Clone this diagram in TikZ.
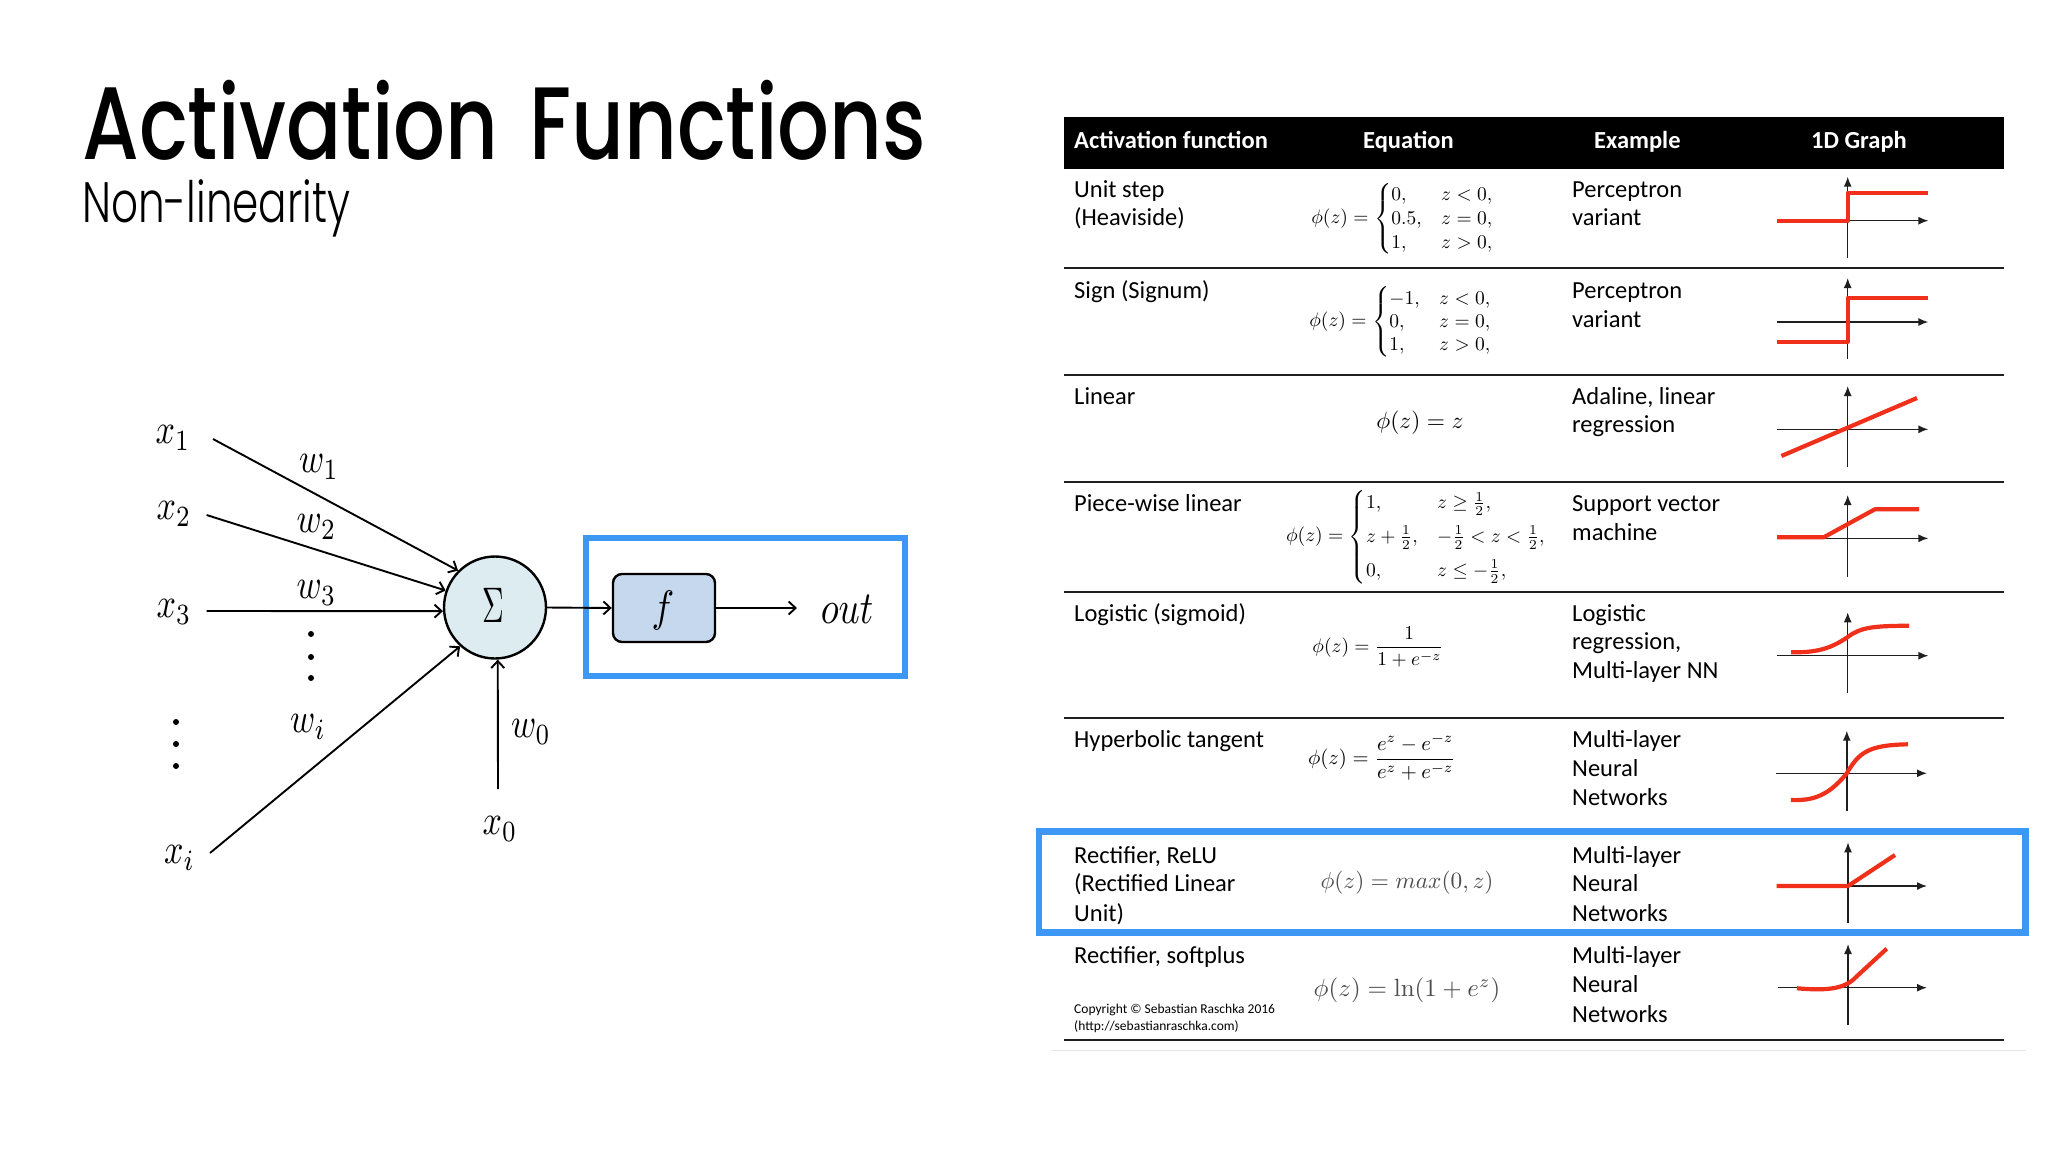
\documentclass[tikz,border=0pt]{standalone}
\usepackage{amsmath}
\usepackage[no-math]{fontspec}
\setmainfont{Carlito}
\newfontfamily\titlefont{Poppins Medium}
\newfontfamily\subfont{Poppins Light}
\usetikzlibrary{arrows.meta}
\definecolor{hlblue}{HTML}{3D97F5}
\definecolor{redcurve}{HTML}{F0301A}
\definecolor{sumfill}{HTML}{DCECF0}
\definecolor{ffill}{HTML}{C5D8EE}
\tikzset{
  mlab/.style={xscale=3.4,yscale=4.2,inner sep=0pt},
  wire/.style={line width=1.9pt,-{Straight Barb[length=7pt,width=13pt,line width=1.9pt]}},
  hlbox/.style={draw=hlblue,line width=6.6pt},
  cell/.style={anchor=base west,inner sep=0pt,font=\fontsize{24.5}{28}\selectfont},
  head/.style={anchor=base west,inner sep=0pt,text=white,font=\fontsize{24.5}{28}\selectfont\bfseries},
  eqn/.style={inner sep=0pt,scale=1.95},
  rulel/.style={line width=1.7pt,color=black!88},
  axis/.style={xshift=-1pt,line width=1.5pt,color=black!88,-{Latex[length=10pt,width=8pt]}},
  curve/.style={xshift=-1pt,line width=4.2pt,color=redcurve,line join=round},
  vdot/.style={fill=black},
}
\begin{document}
\begin{tikzpicture}[x=1pt,y=-1pt]
\useasboundingbox (0,0) rectangle (2048,1152);
\fill[white] (0,0) rectangle (2048,1152);

% title
\node[anchor=base west,inner sep=0pt] (title) at (82,159) {\resizebox{844pt}{\height}{\fontsize{103}{110}\titlefont Activation\hskip 12pt\ Functions}};
\node[anchor=base west,inner sep=0pt] (subtitle) at (82,222) {\resizebox{268pt}{\height}{\fontsize{57}{62}\subfont Non-linearity}};

% perceptron diagram
\node[circle,draw,line width=2.4pt,fill=sumfill,minimum size=102pt,inner sep=0pt] (sum) at (495,607.5) {};
\node[xscale=3,yscale=5,inner sep=0pt] (sigma) at (493,605) {$\Sigma$};
\node[rounded corners=9pt,draw,line width=2.4pt,fill=ffill,minimum width=102pt,minimum height=68pt,inner sep=0pt] (fbox) at (664,608) {};
\node[xscale=3.8,yscale=4.4,inner sep=0pt] (fl) at (663,610) {$f$};
\node[xscale=3.7,yscale=4.6,inner sep=0pt] (out) at (847,609) {$out$};
\coordinate (outend) at (797,608);
\node[hlbox,minimum width=319pt,minimum height=138pt,inner sep=0pt] (outhl) at (745.5,607) {};

\node[mlab] (x1) at (173,438) {$x_1$};
\node[mlab] (x2) at (174,514) {$x_2$};
\node[mlab] (x3) at (174,612) {$x_3$};
\node[mlab] (xi) at (179.5,858) {$x_i$};
\node[mlab] (x0) at (500,829) {$x_0$};
\node[mlab] (w1) at (319,467) {$w_1$};
\node[mlab] (w2) at (316.5,527) {$w_2$};
\node[mlab] (w3) at (316.5,593) {$w_3$};
\node[mlab] (wi) at (308,727) {$w_i$};
\node[mlab] (w0) at (531,732) {$w_0$};

\coordinate (c1) at (213,439);
\coordinate (c2) at (206.6,515);
\coordinate (c3) at (206.6,611);
\coordinate (ci) at (210,853);
\coordinate (c0) at (498,789);
\draw[wire] (c1) -- (sum.135);
\draw[wire] (c2) -- (sum.161);
\draw[wire] (c3) -- (sum.184);
\draw[wire] (ci) -- (sum.228);
\draw[wire] (c0) -- (sum.273);
\draw[wire] (sum.east) -- (fbox.west);
\draw[wire] (fbox.east) -- (outend);

\foreach \p in {(311,634),(311,657),(311,678),(176,722),(176,744),(176,766)}
  \fill[vdot] \p circle [radius=3pt];

% table
\fill[black] (1064,117) rectangle (2004,169);
\node[head] (h1) at (1074,148) {Activation function};
\node[head] (h2) at (1363,148) {Equation};
\node[head] (h3) at (1594,148) {Example};
\node[head] (h4) at (1811,148) {1D Graph};

\foreach \yy in {268,375,481.7,591.7,718,1040}
  \draw[rulel] (1064,\yy) -- (2004,\yy);
\draw[line width=1pt,color=black!10] (1052,1050.7) -- (2026,1050.7);

% row 1
\node[cell] (r1a) at (1074,197) {Unit step};
\node[cell] (r1b) at (1074,225) {(Heaviside)};
\node[cell] (r1c) at (1572,197) {Perceptron};
\node[cell] (r1d) at (1572,225) {variant};
\node[eqn] (r1e) at (1403,219) {$\phi(z)=\begin{cases}0,& z<0,\\[-2pt]0.5,& z=0,\\[-2pt]1,& z>0,\end{cases}$};
\draw[axis] (1848.7,257.7) -- (1848.7,176.7);
\draw[axis] (1778,220.7) -- (1929.4,220.7);
\draw[curve] (1778,220.7) -- (1848.7,220.7) -- (1848.7,192.7) -- (1929.4,192.7);

% row 2
\node[cell] (r2a) at (1074,298) {Sign (Signum)};
\node[cell] (r2c) at (1572,298) {Perceptron};
\node[cell] (r2d) at (1572,327) {variant};
\node[eqn] (r2e) at (1401,322) {$\phi(z)=\begin{cases}-1,& z<0,\\[-2.5pt]0,& z=0,\\[-2.5pt]1,& z>0,\end{cases}$};
\draw[axis] (1848.7,359) -- (1848.7,278);
\draw[axis] (1778,322) -- (1929.4,322);
\draw[curve] (1778,341.7) -- (1848.7,341.7) -- (1848.7,297.7) -- (1929.4,297.7);

% row 3
\node[cell] (r3a) at (1074,404) {Linear};
\node[cell] (r3c) at (1572,404) {Adaline, linear};
\node[cell] (r3d) at (1572,432) {regression};
\node[eqn,scale=1.2] (r3e) at (1420,423) {$\phi(z)=z$};
\draw[axis] (1848.7,466.7) -- (1848.7,386);
\draw[axis] (1778,429.3) -- (1929.4,429.3);
\draw[curve] (1782.4,456) -- (1918,398);

% row 4
\node[cell] (r4a) at (1074,511) {Piece-wise linear};
\node[cell] (r4c) at (1572,511) {Support vector};
\node[cell] (r4d) at (1572,540) {machine};
\node[eqn] (r4e) at (1416.5,537) {$\phi(z)=\begin{cases}1,& z\ge\frac12,\\[3pt] z+\frac12,& -\frac12<z<\frac12,\\[3pt] 0,& z\le-\frac12,\end{cases}$};
\draw[axis] (1848.7,576.7) -- (1848.7,495);
\draw[axis] (1778,538.3) -- (1929.4,538.3);
\draw[curve] (1778,537.3) -- (1824.7,537.3) -- (1875.8,509.3) -- (1920,509.3);

% row 5
\node[cell] (r5a) at (1074,621) {Logistic (sigmoid)};
\node[cell] (r5c) at (1572,621) {Logistic};
\node[cell] (r5d) at (1572,649) {regression,};
\node[cell] (r5f) at (1572,678) {Multi-layer NN};
\node[eqn] (r5e) at (1378,647) {$\phi(z)=\dfrac{1}{1+e^{-z}}$};
\draw[axis] (1848.7,693.3) -- (1848.7,612.3);
\draw[axis] (1778,655.7) -- (1929.4,655.7);
\draw[curve] (1792,652.3) .. controls (1815,652.5) and (1830,650) .. (1848.7,637) .. controls (1862,627) and (1875,626) .. (1910,625.7);

% row 6
\node[cell] (r6a) at (1074,747) {Hyperbolic tangent};
\node[cell] (r6c) at (1572,747) {Multi-layer};
\node[cell] (r6d) at (1572,776) {Neural};
\node[cell] (r6f) at (1572,805) {Networks};
\node[eqn,scale=1.06] (r6e) at (1382,757) {$\phi(z)=\dfrac{e^{z}-e^{-z}}{e^{z}+e^{-z}}$};
\draw[axis] (1847.8,811) -- (1847.8,730.7);
\draw[axis] (1777,773.3) -- (1928,773.3);
\draw[curve] (1791.8,800) .. controls (1815,801) and (1830,795) .. (1847.8,773.3) .. controls (1860,752) and (1870,745) .. (1909,744.3);

% row 7
\node[cell] (r7a) at (1074,863) {Rectifier, ReLU};
\node[cell] (r7b) at (1074,891) {(Rectified Linear};
\node[cell] (r7g) at (1074,921) {Unit)};
\node[cell] (r7c) at (1572,863) {Multi-layer};
\node[cell] (r7d) at (1572,891) {Neural};
\node[cell] (r7f) at (1572,921) {Networks};
\node[eqn,scale=1.195,text=black!70] (r7e) at (1407,883) {$\phi(z)=max(0,z)$};
\draw[axis] (1849,923.3) -- (1849,842.3);
\draw[axis] (1777.6,886) -- (1928,886);
\draw[curve] (1777.6,886) -- (1849,886) -- (1896,855);
\node[hlbox,minimum width=986.4pt,minimum height=101.4pt,inner sep=0pt] (relubox) at (1532,882) {};

% row 8
\node[cell] (r8a) at (1074,963) {Rectifier, softplus};
\node[cell] (r8c) at (1572,963) {Multi-layer};
\node[cell] (r8d) at (1572,992) {Neural};
\node[cell] (r8f) at (1572,1022) {Networks};
\node[eqn,scale=1.28,text=black!70] (r8e) at (1407,990) {$\phi(z)=\ln(1+e^{z})$};
\node[cell,font=\fontsize{13.5}{16}\selectfont] (cp1) at (1074,1013) {Copyright © Sebastian Raschka 2016};
\node[cell,font=\fontsize{13.5}{16}\selectfont] (cp2) at (1074,1030) {(http://sebastianraschka.com)};
\draw[axis] (1849,1025) -- (1849,944);
\draw[axis] (1779,987.7) -- (1928,987.7);
\draw[curve] (1798,988.3) .. controls (1825,990.5) and (1845,990) .. (1857,977) -- (1887.7,948.7);
\end{tikzpicture}
\end{document}
